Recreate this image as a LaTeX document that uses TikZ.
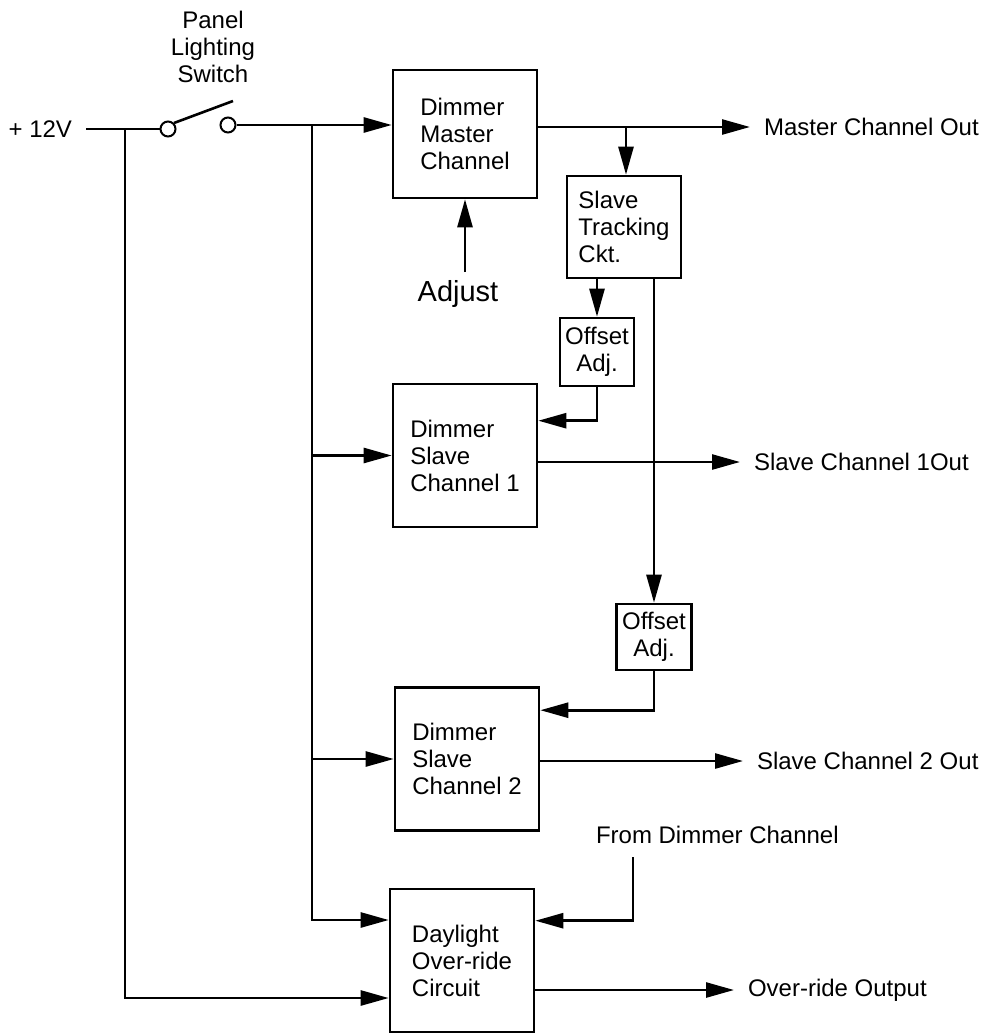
\documentclass[tikz,border=0pt]{standalone}
\usepackage{fontspec}
\setmainfont{Liberation Sans}
\usetikzlibrary{arrows.meta}

\begin{document}
\begin{tikzpicture}[
    x=0.5pt, y=-0.5pt,
    line width=1.3pt,
    every node/.style = {
        font=\fontsize{12}{13.5}\selectfont,
    },
    block/.style = {
        draw,
        rectangle,
        align=left,
        inner sep=0pt,
        minimum width=72pt,
        minimum height=71.5pt,
    },
    smallBlock/.style = {
        draw,
        rectangle,
        align=center,
        inner sep=0pt,
    },
    contact/.style = {
        draw,
        circle,
        line width=1pt,
        inner sep=0pt,
        minimum size=7.5pt,
    },
    sigText/.style = {
        inner sep=0pt,
        outer xsep=7pt,
    },
    signal/.style = {
        -{Triangle[length=14pt, width=7.5pt]},
    },
]
\useasboundingbox (0,0) rectangle (985,1034);

% blocks
\node[block, minimum height=64pt] (master) at (465,134) {Dimmer\\Master\\Channel};
\node[block, minimum width=57pt, minimum height=51pt] (tracking) at (624,227) {Slave\\Tracking\\Ckt.};
\node[smallBlock, minimum width=37pt, minimum height=34pt] (offsetA) at (597,352) {Offset\\Adj.};
\node[block] (slaveA) at (465,455.5) {Dimmer\\Slave\\Channel 1};
\node[smallBlock, minimum width=37.5pt, minimum height=33pt] (offsetB) at (654,637) {Offset\\Adj.};
\node[block] (slaveB) at (467,759) {Dimmer\\Slave\\Channel 2};
\node[block] (daylight) at (462,960.5) {Daylight\\Over-ride\\Circuit};

% texts
\node[sigText, anchor=east] (supply) at (86,129) {+ 12V};
\node[align=center] (switchName) at (213,47) {Panel\\Lighting\\Switch};
\node[anchor=base, font=\fontsize{14.5}{16}\selectfont] (adjust) at (458,301) {Adjust};
\node[sigText, anchor=west] (masterOut) at (750,127) {Master Channel Out};
\node[sigText, anchor=west] (slaveAOut) at (740,462) {Slave Channel 1Out};
\node[sigText, anchor=west] (slaveBOut) at (743,761) {Slave Channel 2 Out};
\node[sigText, anchor=west] (dimmerIn) at (582,835) {From Dimmer Channel};
\node[sigText, anchor=west] (daylightOut) at (734,990) {Over-ride Output};

% switch
\node[contact] (pinA) at (168,129) {};
\node[contact] (pinB) at (228,125) {};
\coordinate (leverTip) at (233,101);
\draw (supply.east) -- (pinA.west);
\draw (pinA.north east) -- (leverTip);
\draw[signal] (pinB.east) -- (pinB.east -| master.west);

% supply rails
\coordinate (railTop) at (125,129);
\coordinate (railEnd) at (125,998);
\draw[signal] (railTop) -- (railEnd) -- (railEnd -| daylight.west);

\coordinate (busTop) at (312,125);
\coordinate (busEnd) at (312,920);
\draw[signal] (busTop) -- (busEnd) -- (busEnd -| daylight.west);
\draw[signal] (slaveA.west -| busTop) -- (slaveA.west);
\draw[signal] (slaveB.west -| busTop) -- (slaveB.west);

% master and tracking
\draw[signal] (adjust.north -| master.south) -- (master.south);
\draw[signal] (masterOut.west -| master.east) -- (masterOut.west);
\coordinate (masterTap) at (626,127);
\draw[signal] (masterTap) -- (masterTap |- tracking.north);
\draw[signal] (tracking.south -| offsetA) -- (offsetA.north);
\draw[signal] (tracking.south -| offsetB) -- (offsetB.north);
\draw[signal] (offsetA.south) |- ([yshift=-19pt]slaveA.north east);
\draw[signal] (offsetB.south) |- ([yshift=-12pt]slaveB.north east);

% outputs
\draw[signal] (slaveAOut.west -| slaveA.east) -- (slaveAOut.west);
\draw[signal] (slaveBOut.west -| slaveB.east) -- (slaveBOut.west);
\coordinate (dimmerTap) at (633,857);
\draw[signal] (dimmerTap) |- ([yshift=-16.5pt]daylight.north east);
\draw[signal] (daylightOut.west -| daylight.east) -- (daylightOut.west);

\end{tikzpicture}
\end{document}
